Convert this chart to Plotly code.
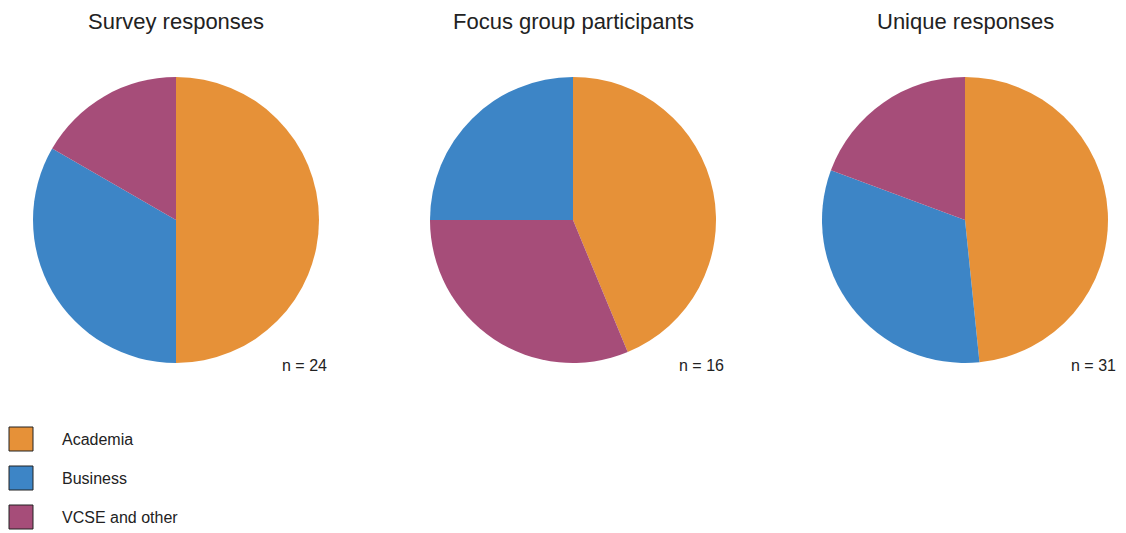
import plotly.graph_objects as go

W, H = 1126, 533

categories = ["Academia", "Business", "VCSE and other"]
colors = {"Academia": "#E69138", "Business": "#3D85C6", "VCSE and other": "#A64D79"}

titles = ["Survey responses", "Focus group participants", "Unique responses"]
survey_labels = ["Academia", "Business", "VCSE and other"]
survey_values = [12, 8, 4]
focus_labels = ["Academia", "VCSE and other", "Business"]
focus_values = [7, 5, 4]
unique_labels = ["Academia", "Business", "VCSE and other"]
unique_values = [15, 10, 6]
n_labels = ["n = 24", "n = 16", "n = 31"]

pies = [(survey_labels, survey_values), (focus_labels, focus_values), (unique_labels, unique_values)]
centers_px = [176, 573, 965]
radius = 143
cy_px = 220

fig = go.Figure()
annotations = []
shapes = []
for i, ((labs, vals), cx) in enumerate(zip(pies, centers_px)):
    x0 = (cx - radius) / W
    x1 = (cx + radius) / W
    y0 = 1 - (cy_px + radius) / H
    y1 = 1 - (cy_px - radius) / H
    fig.add_trace(go.Pie(
        labels=labs, values=vals, sort=False, direction="clockwise", rotation=0,
        marker=dict(colors=[colors[l] for l in labs], line=dict(width=0)),
        textinfo="none", hoverinfo="label+value+percent",
        domain=dict(x=[x0, x1], y=[y0, y1]), showlegend=False,
    ))
    annotations.append(dict(
        text=titles[i], x=cx / W, y=1 - 21 / H, xref="paper", yref="paper",
        xanchor="center", yanchor="middle", showarrow=False,
        font=dict(family="Liberation Sans, Arial", size=22, color="#222222"),
    ))
    annotations.append(dict(
        text=n_labels[i], x=(cx + 153) / W, y=1 - 365 / H, xref="paper", yref="paper",
        xanchor="right", yanchor="middle", showarrow=False,
        font=dict(family="Liberation Sans, Arial", size=16, color="#222222"),
    ))

# legend
leg_y = [439, 478, 517]
for cat, yc in zip(categories, leg_y):
    shapes.append(dict(
        type="rect", xref="paper", yref="paper",
        x0=9 / W, x1=33 / W, y0=1 - (yc + 12) / H, y1=1 - (yc - 12) / H,
        fillcolor=colors[cat], line=dict(color="#222222", width=1),
    ))
    annotations.append(dict(
        text=cat, x=60 / W, y=1 - yc / H, xref="paper", yref="paper",
        xanchor="left", yanchor="middle", showarrow=False,
        font=dict(family="Liberation Sans, Arial", size=16, color="#222222"),
    ))

fig.update_layout(
    width=W, height=H, margin=dict(l=0, r=0, t=0, b=0),
    paper_bgcolor="white", plot_bgcolor="white",
    annotations=annotations, shapes=shapes, showlegend=False,
)
fig.write_html("out.html")
